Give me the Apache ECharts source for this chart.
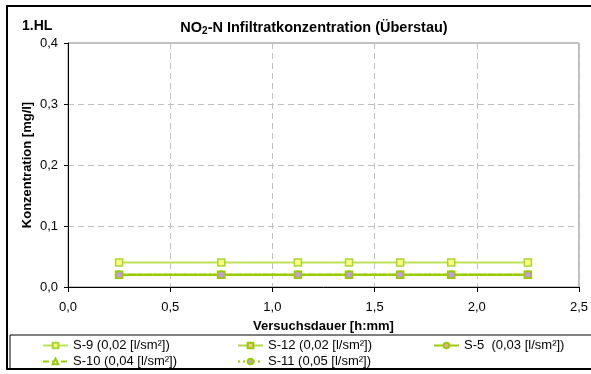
<!DOCTYPE html>
<html><head><meta charset="utf-8">
<script src="https://cdn.jsdelivr.net/npm/echarts@6/dist/echarts.min.js"></script>
<style>html,body{margin:0;padding:0;background:#fff}#c{width:591px;height:374px}</style>
</head><body><div id="c"></div>
<script>
const times = [0.25, 0.75, 1.125, 1.375, 1.625, 1.875, 2.25];
const seriesNames = ['S-9 (0,02 [l/sm²])', 'S-12 (0,02 [l/sm²])', 'S-5  (0,03 [l/sm²])', 'S-10 (0,04 [l/sm²])', 'S-11 (0,05 [l/sm²])'];
const s9 = [0.04, 0.04, 0.04, 0.04, 0.04, 0.04, 0.04];
const s12 = [0.02, 0.02, 0.02, 0.02, 0.02, 0.02, 0.02];
const s5 = [0.02, 0.02, 0.02, 0.02, 0.02, 0.02, 0.02];
const s10 = [0.02, 0.02, 0.02, 0.02, 0.02, 0.02, 0.02];
const s11 = [0.02, 0.02, 0.02, 0.02, 0.02, 0.02, 0.02];
const xTicks = {min: 0, max: 2.5, step: 0.5};
const yTicks = {min: 0, max: 0.4, step: 0.1};

const pair = v => times.map((t, i) => [t, v[i]]);
const font = 'Liberation Sans, Arial, sans-serif';
const fmt = v => v.toFixed(1).replace('.', ',');

const styles = [
  {line: '#bde35a', type: 'solid', symbol: 'rect', size: 7, fill: '#ffff80', border: '#a8d830'},
  {line: '#b0d848', type: 'solid', symbol: 'rect', size: 7, fill: '#f8c898', border: '#99cc00'},
  {line: '#99cc00', type: 'solid', symbol: 'circle', size: 6, fill: '#f0a0c8', border: '#99cc00'},
  {line: '#99cc00', type: [6, 3], symbol: 'triangle', size: 6, fill: '#ffffff', border: '#99cc00'},
  {line: '#99cc00', type: [2, 3], symbol: 'circle', size: 7, fill: '#c898e8', border: '#99cc00'}
];
const datas = [s9, s12, s5, s10, s11];

const series = datas.map((d, i) => ({
  name: seriesNames[i], type: 'line', data: pair(d),
  symbol: styles[i].symbol, symbolSize: styles[i].size, showAllSymbol: true,
  lineStyle: {color: styles[i].line, width: 2, type: styles[i].type},
  itemStyle: {color: styles[i].fill, borderColor: styles[i].border, borderWidth: 1.5},
  emphasis: {disabled: true}, animation: false, z: 2 + i
}));

const legendBase = {orient: 'vertical', top: 339, padding: 0, itemGap: 3, itemWidth: 25, itemHeight: 7,
  textStyle: {fontFamily: font, fontSize: 13, color: '#000'}, selectedMode: false};

const chart = echarts.init(document.getElementById('c'));
chart.setOption({
  animation: false,
  backgroundColor: '#fff',
  textStyle: {fontFamily: font},
  title: {
    text: '{a|NO}{s|2}{a|-N Infiltratkonzentration (Überstau)}',
    left: 314, top: 19, textAlign: 'center', padding: 0,
    textStyle: {rich: {
      a: {fontFamily: font, fontSize: 14.5, fontWeight: 'bold', color: '#000'},
      s: {fontFamily: font, fontSize: 10, fontWeight: 'bold', color: '#000', padding: [7, 0, 0, 0]}
    }}
  },
  graphic: [
    {type: 'rect', shape: {x: 7, y: 6, width: 600, height: 363}, style: {fill: 'none', stroke: '#000', lineWidth: 2}, z: 10},
    {type: 'rect', shape: {x: 10, y: 335, width: 600, height: 34}, style: {fill: 'none', stroke: '#000', lineWidth: 1}, z: 10},
    {type: 'text', left: 22, top: 19, style: {text: '1.HL', font: 'bold 14px ' + font, fill: '#000'}}
  ],
  grid: {left: 68, right: 10, top: 43, bottom: 87, show: true, borderColor: '#888', borderWidth: 1},
  xAxis: {
    type: 'value', min: xTicks.min, max: xTicks.max, interval: xTicks.step,
    name: 'Versuchsdauer [h:mm]', nameLocation: 'middle', nameGap: 33,
    nameTextStyle: {fontFamily: font, fontSize: 13, fontWeight: 'bold', color: '#000'},
    axisLine: {lineStyle: {color: '#000', width: 1}},
    axisTick: {show: true, inside: false, length: 5, lineStyle: {color: '#000'}},
    axisLabel: {formatter: fmt, fontFamily: font, fontSize: 13, color: '#000', margin: 14},
    splitLine: {show: true, lineStyle: {color: '#c0c0c0', type: [6, 4]}}
  },
  yAxis: {
    type: 'value', min: yTicks.min, max: yTicks.max, interval: yTicks.step,
    name: 'Konzentration [mg/l]', nameLocation: 'middle', nameGap: 34, nameMoveOverlap: false,
    nameTextStyle: {fontFamily: font, fontSize: 13, fontWeight: 'bold', color: '#000'},
    axisLine: {show: true, lineStyle: {color: '#000', width: 1}},
    axisTick: {show: true, inside: false, length: 4, lineStyle: {color: '#000'}},
    axisLabel: {formatter: fmt, fontFamily: font, fontSize: 13, color: '#000', margin: 10},
    splitLine: {show: true, lineStyle: {color: '#c0c0c0', type: [6, 4]}}
  },
  legend: [
    Object.assign({}, legendBase, {left: 42, data: [seriesNames[0], seriesNames[3]]}),
    Object.assign({}, legendBase, {left: 237, data: [seriesNames[1], seriesNames[4]]}),
    Object.assign({}, legendBase, {left: 433, data: [seriesNames[2]]})
  ],
  series: series
});
</script></body></html>
